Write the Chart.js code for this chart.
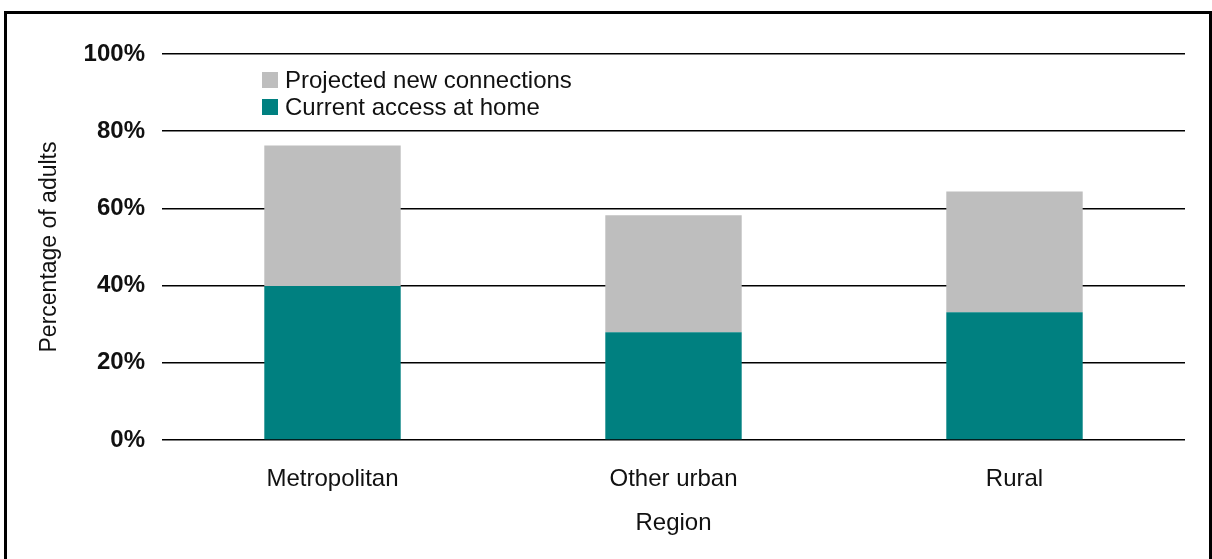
<!DOCTYPE html>
<html>
<head>
<meta charset="utf-8">
<script src="https://cdn.jsdelivr.net/npm/chart.js@4.4.1/dist/chart.umd.min.js"></script>
<style>
  html, body { margin: 0; padding: 0; background: #fff; overflow: hidden; }
  #wrap { position: relative; width: 1212px; height: 559px; }
  #frame {
    position: absolute; left: 4px; top: 11px; width: 1208px; height: 600px;
    box-sizing: border-box; border: 3px solid #000; pointer-events: none;
  }
  #legend {
    position: absolute; left: 262px; top: 66px;
    font-family: "Liberation Sans", Arial, sans-serif; font-size: 24px; color: #111;
  }
  .row { display: flex; align-items: center; height: 27.5px; }
  .sw { width: 16px; height: 16px; margin-right: 7px; flex: none; }
</style>
</head>
<body>
<div id="wrap">
  <canvas id="c" width="1212" height="559"></canvas>
  <div id="legend"></div>
  <div id="frame"></div>
</div>
<script>
// Share of adults with home access, by region
const regions = ["Metropolitan", "Other urban", "Rural"];
const currentAccess = [39.9, 27.9, 33.1];
const projectedNew = [36.4, 30.3, 31.3];
const yTicks = [0, 20, 40, 60, 80, 100];

const FONT = '"Liberation Sans", Arial, sans-serif';

const chart = new Chart(document.getElementById('c'), {
  type: 'bar',
  data: {
    labels: regions,
    datasets: [
      { label: 'Current access at home', data: currentAccess, backgroundColor: '#008080' },
      { label: 'Projected new connections', data: projectedNew, backgroundColor: '#bebebe' }
    ]
  },
  options: {
    responsive: false,
    animation: false,
    events: [],
    datasets: { bar: { categoryPercentage: 1, barPercentage: 0.4 } },
    layout: { padding: { left: 32, right: 27, top: 54, bottom: 17 } },
    plugins: { legend: { display: false }, tooltip: { enabled: false } },
    scales: {
      x: {
        stacked: true,
        grid: { display: false },
        border: { display: false },
        ticks: { color: '#111', padding: 17, font: { family: FONT, size: 24 } },
        title: { display: true, text: 'Region', color: '#111', font: { family: FONT, size: 24 } },
        afterFit(s) { s.height = 102; }
      },
      y: {
        stacked: true,
        min: 0, max: 100,
        afterBuildTicks(s) { s.ticks = yTicks.map(v => ({ value: v })); },
        grid: { color: '#000', lineWidth: 1.5, drawTicks: false },
        border: { display: false },
        ticks: {
          color: '#111', padding: 17,
          font: { family: FONT, size: 24, weight: 'bold' },
          callback: v => v + '%'
        },
        title: { display: true, text: 'Percentage of adults', color: '#111', font: { family: FONT, size: 23 } },
        afterFit(s) { s.width = 130; }
      }
    }
  }
});

// Legend listing the stack from top to bottom
const legend = document.getElementById('legend');
chart.data.datasets.slice().reverse().forEach(ds => {
  const row = document.createElement('div');
  row.className = 'row';
  const sw = document.createElement('span');
  sw.className = 'sw';
  sw.style.background = ds.backgroundColor;
  const tx = document.createElement('span');
  tx.textContent = ds.label;
  row.appendChild(sw);
  row.appendChild(tx);
  legend.appendChild(row);
});
</script>
</body>
</html>
